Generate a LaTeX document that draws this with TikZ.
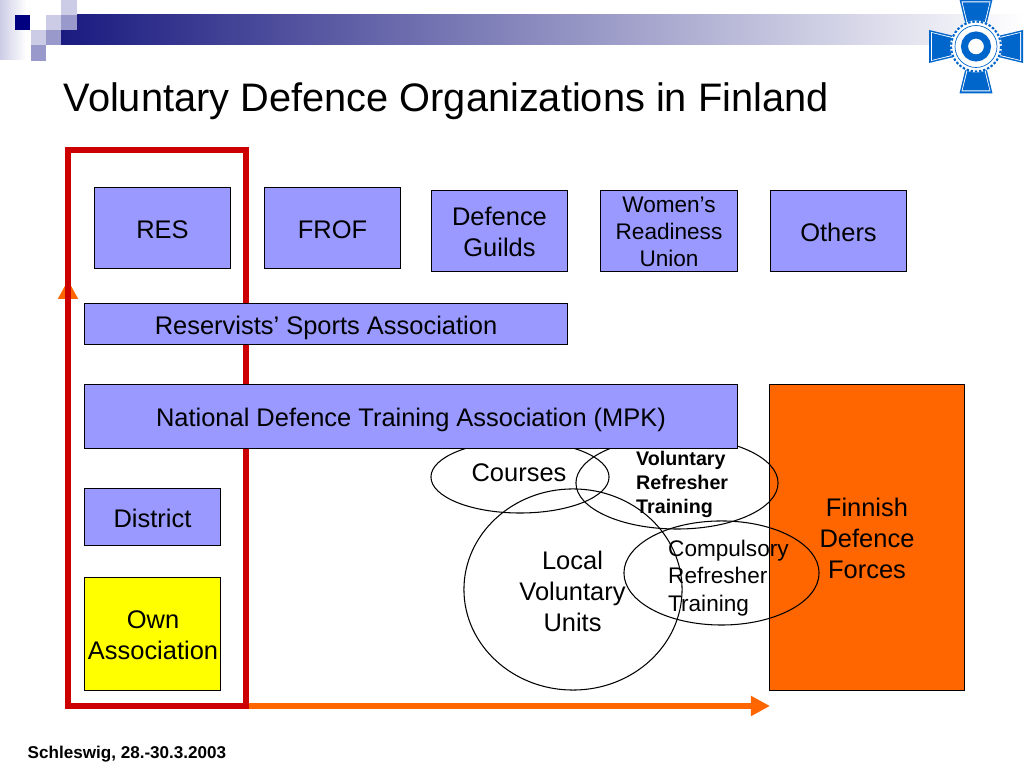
\documentclass[tikz,border=0pt]{standalone}
\usepackage{fontspec}
\setmainfont{Liberation Sans}
\usetikzlibrary{arrows.meta, shapes.geometric}
\definecolor{boxblue}{HTML}{9999FF}
\definecolor{forceorange}{HTML}{FF6600}
\definecolor{framered}{HTML}{CC0000}
\definecolor{logoblue}{HTML}{0066CC}
\definecolor{ownyellow}{HTML}{FFFF00}
\definecolor{navy}{HTML}{000080}
\definecolor{barblue}{HTML}{1A1A80}
\definecolor{pale}{HTML}{CCCCE6}
\definecolor{mid}{HTML}{9999CC}
\tikzset{
  bigtext/.style={font=\fontsize{7.24}{8.82}\selectfont, align=center},
  midtext/.style={font=\fontsize{6.42}{7.75}\selectfont, align=left},
  orgbox/.style={draw=black, fill=boxblue, line width=.3pt, inner sep=0pt, bigtext},
  oneline/.style={text height=5.8pt, text depth=0pt},
  overlap/.style={ellipse, draw=black, line width=.3pt, inner sep=0pt, outer sep=0pt},
  progress/.style={draw=forceorange, line width=1.7pt, -{Triangle[length=.19cm, width=.19cm]}}
}

\begin{document}
\begin{tikzpicture}[x=.01cm, y=-.01cm]
        \useasboundingbox (0,0) rectangle (1024,768);

        % Header
        \fill[left color=pale, right color=white] (0,0) rectangle (26,60);
        \fill[left color=barblue, right color=white] (61,15) rectangle (1024,45);
        \fill[white] (61,15) rectangle (77,30);
        \fill[white] (30,15) rectangle (46,30);
        \fill[navy] (15,15) rectangle (30,30);
        \fill[pale] (46,15) rectangle (61,30);
        \fill[pale] (61,0) rectangle (77,15);
        \fill[mid] (61,15) rectangle (77,30);
        \fill[pale] (31,30) rectangle (46,45);
        \fill[mid] (46,30) rectangle (61,45);
        \fill[mid] (31,45) rectangle (46,61);

        \node[anchor=west, inner sep=0pt, font=\fontsize{11.31}{13}\selectfont] (title) at (63,101.5) {Voluntary Defence Organizations in Finland};

        % Emblem
        \begin{scope}[shift={(976,46.5)}]
          \foreach \turn in {0,90,180,270} {
            \fill[logoblue, rotate=\turn] (-16.5,-47) -- (16.5,-47) -- (10,-20) -- (-10,-20) -- cycle;
            \fill[white, rotate=\turn] (-14.5,-45) -- (14.5,-45) -- (8.5,-20) -- (-8.5,-20) -- cycle;
            \fill[logoblue, rotate=\turn] (-13.5,-44) -- (13.5,-44) -- (7.5,-20) -- (-7.5,-20) -- cycle;
          }
          \fill[white] (0,0) circle (26);
          \draw[logoblue, line width=.6pt, dash pattern=on .7pt off .5pt] (0,0) circle (25);
          \draw[logoblue, line width=.2pt] (0,0) circle (21);
          \draw[logoblue, line width=2pt] (0,0) circle (11.5);
        \end{scope}

        % Arrows and frame
        \coordinate (corner) at (68,706);
        \coordinate (uptip) at (68,280);
        \coordinate (righttip) at (770,706);
        \draw[progress] (corner) -- (uptip);
        \draw[progress] (corner) -- (righttip);
        \node[draw=framered, line width=1.7pt, inner sep=0pt, minimum width=1.78cm, minimum height=5.56cm] (frame) at (157,428) {};

        % Forces
        \node[orgbox, fill=forceorange, minimum width=1.94cm, minimum height=3.06cm] (forces) at (867,537.5) {};
        \node[bigtext] (forceslabel) at (867,538) {Finnish\\Defence\\Forces};

        % Overlapping activities
        \node[overlap, minimum width=1.78cm, minimum height=.72cm] (courses) at (520,477) {};
        \node[overlap, minimum width=2.02cm, minimum height=.92cm] (voluntary) at (677,483) {};
        \node[overlap, minimum width=2.18cm, minimum height=2.01cm] (local) at (573,589.5) {};
        \node[overlap, minimum width=1.95cm, minimum height=1.04cm] (compulsory) at (721.5,573) {};
        \node[bigtext] (courseslabel) at (519,473) {Courses};
        \node[bigtext] (locallabel) at (572.5,591) {Local\\Voluntary\\Units};
        \node[anchor=west, inner sep=0pt, font=\bfseries\fontsize{5.6}{6.83}\selectfont, align=left] (voluntarylabel) at (635.5,484) {Voluntary\\Refresher\\Training};
        \node[anchor=west, inner sep=0pt, midtext] (compulsorylabel) at (667.5,578) {Compulsory\\Refresher\\Training};

        % Organizations
        \node[orgbox, oneline, minimum width=1.365cm, minimum height=.81cm] (res) at (162.5,228) {RES};
        \node[orgbox, oneline, minimum width=1.365cm, minimum height=.81cm] (frof) at (332.5,228) {FROF};
        \node[orgbox, minimum width=1.365cm, minimum height=.81cm] (guilds) at (499.5,231) {};
        \node[bigtext] (guildslabel) at (499.5,232) {Defence\\Guilds};
        \node[orgbox, minimum width=1.375cm, minimum height=.81cm] (women) at (669,231) {};
        \node[midtext, align=center] (womenlabel) at (669,232) {Women’s\\Readiness\\Union};
        \node[orgbox, oneline, minimum width=1.365cm, minimum height=.81cm] (others) at (838.5,231) {Others};
        \node[orgbox, oneline, minimum width=4.835cm, minimum height=.41cm] (sports) at (326,324) {Reservists’ Sports Association};
        \node[orgbox, oneline, minimum width=6.535cm, minimum height=.64cm] (mpk) at (411,416.5) {National Defence Training Association (MPK)};
        \node[orgbox, oneline, minimum width=1.365cm, minimum height=.57cm] (district) at (152.5,517) {District};
        \node[orgbox, fill=ownyellow, minimum width=1.365cm, minimum height=1.13cm] (own) at (152.5,634) {};
        \node[bigtext] (ownlabel) at (153,635.5) {Own\\Association};

        % Footer
        \node[anchor=west, inner sep=0pt, font=\bfseries\fontsize{4.86}{5.9}\selectfont] (place) at (27,754.5) {Schleswig, 28.-30.3.2003};
\end{tikzpicture}
\end{document}
